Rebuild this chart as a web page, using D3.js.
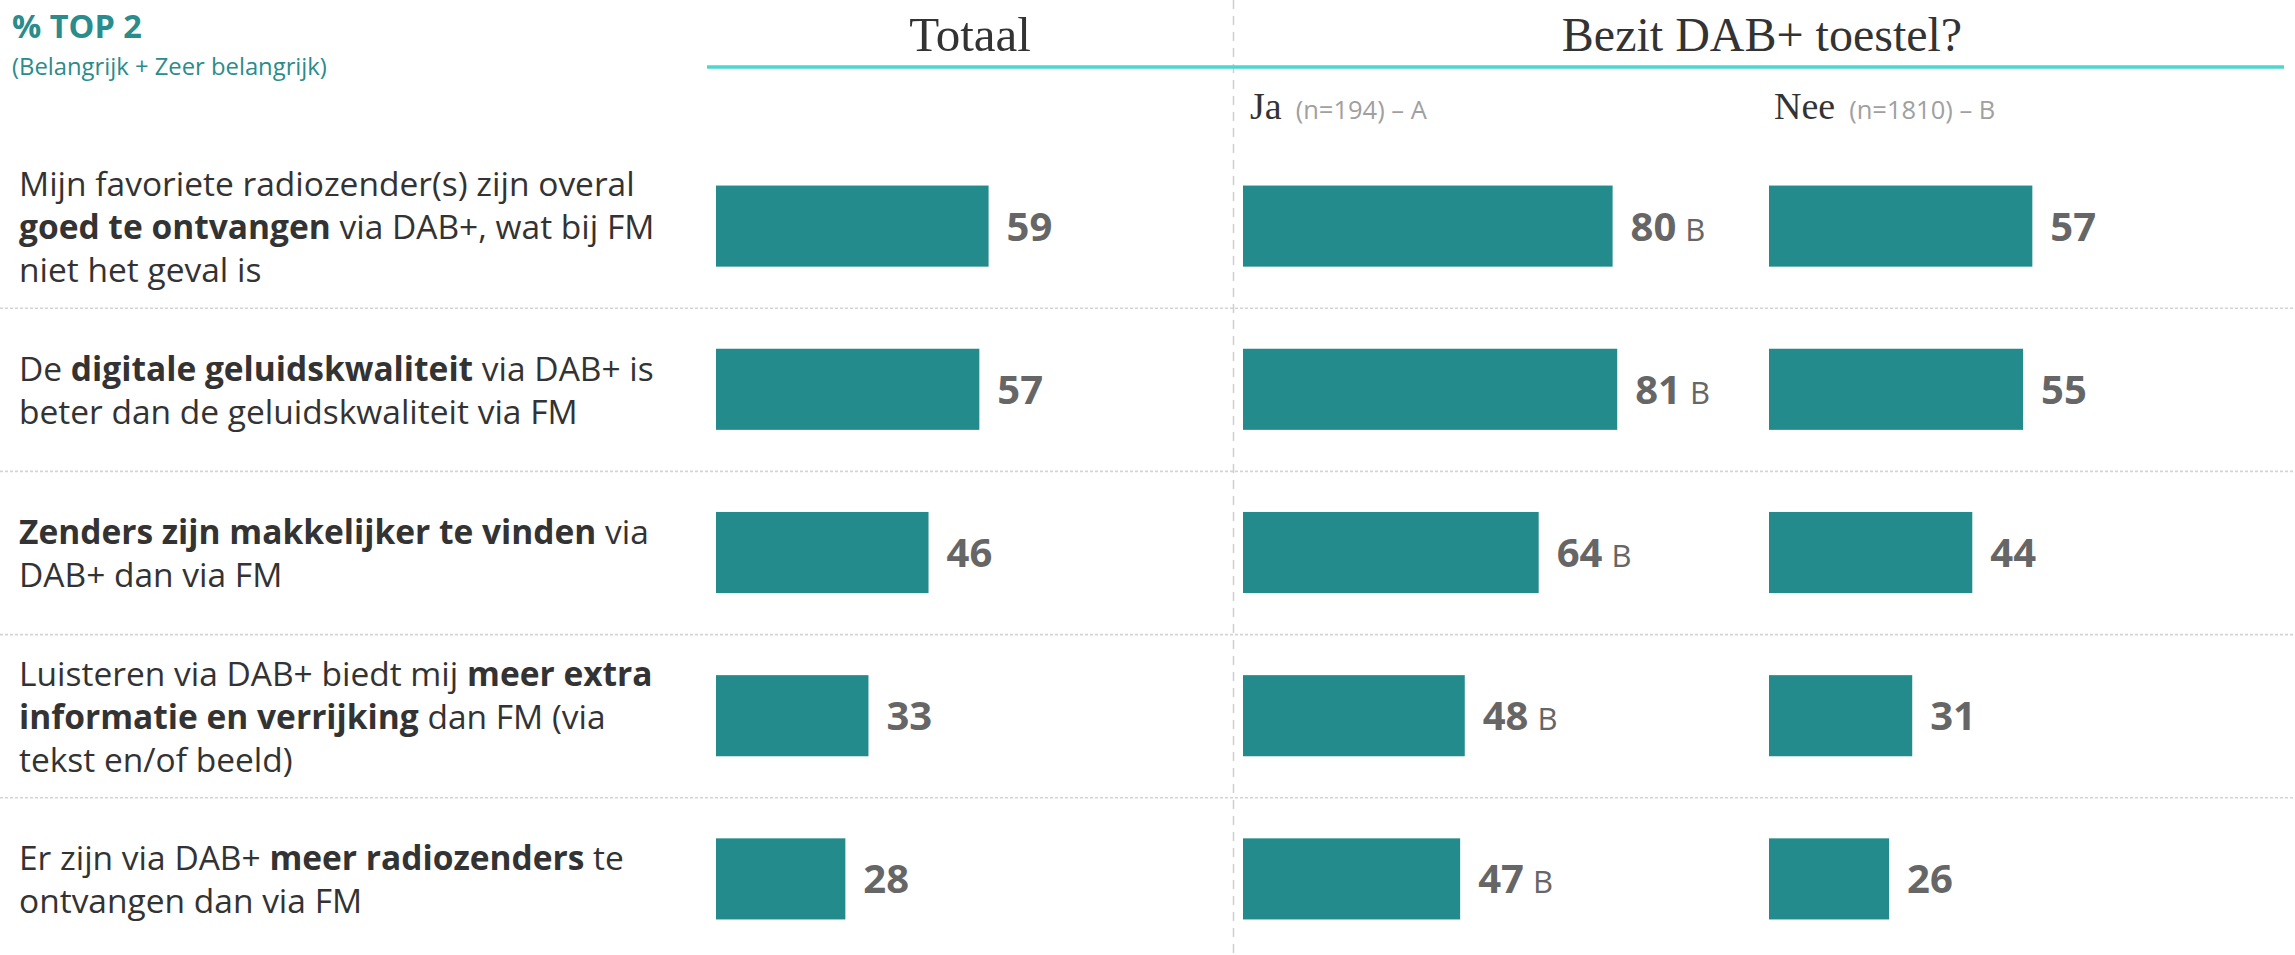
<!DOCTYPE html>
<html>
<head>
<meta charset="utf-8">
<script src="https://cdn.jsdelivr.net/npm/d3@7"></script>
<style>
  html, body { margin: 0; padding: 0; background: #fff; }
  svg { display: block; }
</style>
</head>
<body>
<svg id="chart" width="2295" height="955"></svg>
<script>
// ---------- DATA ----------
const categories = [
  "Mijn favoriete radiozender(s) zijn overal goed te ontvangen via DAB+, wat bij FM niet het geval is",
  "De digitale geluidskwaliteit via DAB+ is beter dan de geluidskwaliteit via FM",
  "Zenders zijn makkelijker te vinden via DAB+ dan via FM",
  "Luisteren via DAB+ biedt mij meer extra informatie en verrijking dan FM (via tekst en/of beeld)",
  "Er zijn via DAB+ meer radiozenders te ontvangen dan via FM"
];
// label lines: each line is a list of [text, bold]
const labelLines = [
  [[["Mijn favoriete radiozender(s) zijn overal", false]],
   [["goed te ontvangen", true], [" via DAB+, wat bij FM", false]],
   [["niet het geval is", false]]],
  [[["De ", false], ["digitale geluidskwaliteit", true], [" via DAB+ is", false]],
   [["beter dan de geluidskwaliteit via FM", false]]],
  [[["Zenders zijn makkelijker te vinden", true], [" via", false]],
   [["DAB+ dan via FM", false]]],
  [[["Luisteren via DAB+ biedt mij ", false], ["meer extra", true]],
   [["informatie en verrijking", true], [" dan FM (via", false]],
   [["tekst en/of beeld)", false]]],
  [[["Er zijn via DAB+ ", false], ["meer radiozenders", true], [" te", false]],
   [["ontvangen dan via FM", false]]]
];
const totaal = [59, 57, 46, 33, 28];
const ja     = [80, 81, 64, 48, 47];
const nee    = [57, 55, 44, 31, 26];
const jaSig  = ["B", "B", "B", "B", "B"];
const neeSig = ["", "", "", "", ""];

const titleMain = "% TOP 2";
const titleSub = "(Belangrijk + Zeer belangrijk)";
const headTotaal = "Totaal";
const headGroup = "Bezit DAB+ toestel?";
const subHeads = [{name: "Ja", note: "(n=194) – A"}, {name: "Nee", note: "(n=1810) – B"}];

// ---------- STYLE ----------
const TEAL_BAR = "#238b8c";
const TEAL_TXT = "#2a8c8c";
const TURQ = "#4dd6d0";
const TXT = "#333333";
const VAL = "#666666";
const SANS = "'Open Sans', 'Noto Sans', sans-serif";
const SERIF = "'Liberation Serif', 'DejaVu Serif', serif";

const svg = d3.select("#chart");

// scales
const y = d3.scaleBand().domain(categories).range([144.5, 960.5]);
const barH = y.bandwidth() * 0.497;
const panelW = 462;
const xT = d3.scaleLinear().domain([0, 100]).range([716, 716 + panelW]);
const xJ = d3.scaleLinear().domain([0, 100]).range([1243, 1243 + panelW]);
const xN = d3.scaleLinear().domain([0, 100]).range([1769, 1769 + panelW]);

// separators between rows
svg.append("g").selectAll("line")
  .data(categories.slice(1))
  .join("line")
  .attr("x1", 0).attr("x2", 2295)
  .attr("y1", d => y(d) + 0.5).attr("y2", d => y(d) + 0.5)
  .attr("stroke", "#d4d4d4").attr("stroke-width", 1.6)
  .attr("stroke-dasharray", "3,2");

// dashed vertical divider
svg.append("line")
  .attr("x1", 1233.5).attr("x2", 1233.5).attr("y1", 0).attr("y2", 955)
  .attr("stroke", "#cfcfcf").attr("stroke-width", 1.5)
  .attr("stroke-dasharray", "9,7");

// header line
svg.append("line")
  .attr("x1", 707).attr("x2", 2284).attr("y1", 67).attr("y2", 67)
  .attr("stroke", TURQ).attr("stroke-width", 3.5);

// titles
svg.append("text").attr("x", 12).attr("y", 38)
  .attr("font-family", SANS).attr("font-weight", 700).attr("font-size", 32.5)
  .attr("fill", TEAL_TXT).text(titleMain);
svg.append("text").attr("x", 12).attr("y", 74.5)
  .attr("font-family", SANS).attr("font-size", 23.8)
  .attr("fill", TEAL_TXT).text(titleSub);

svg.append("text").attr("x", 970).attr("y", 51).attr("text-anchor", "middle")
  .attr("font-family", SERIF).attr("font-size", 49).attr("fill", TXT).text(headTotaal);
svg.append("text").attr("x", 1762).attr("y", 51).attr("text-anchor", "middle")
  .attr("font-family", SERIF).attr("font-size", 48).attr("fill", TXT).text(headGroup);

// sub heads
const subX = [1250, 1774];
subHeads.forEach((s, i) => {
  const t = svg.append("text").attr("x", subX[i]).attr("y", 119);
  t.append("tspan").attr("font-family", SERIF).attr("font-size", 38).attr("fill", TXT).text(s.name);
  t.append("tspan").attr("dx", 14).attr("font-family", SANS).attr("font-size", 25.5)
    .attr("fill", "#a0a0a0").text(s.note);
});

// row labels
const lineH = 43;
const lg = svg.append("g");
categories.forEach((c, i) => {
  const lines = labelLines[i];
  const cy = y(c) + y.bandwidth() / 2;
  lines.forEach((parts, j) => {
    const t = lg.append("text")
      .attr("x", 19)
      .attr("y", cy + 13 + (j - (lines.length - 1) / 2) * lineH)
      .attr("font-family", SANS).attr("font-size", 33.5).attr("fill", TXT);
    parts.forEach(p => {
      t.append("tspan").attr("font-weight", p[1] ? 700 : 400).text(p[0]);
    });
  });
});

// bars
function panel(vals, sig, x) {
  const g = svg.append("g");
  const rows = categories.map((c, i) => ({c, v: vals[i], s: sig[i]}));
  g.selectAll("rect").data(rows).join("rect")
    .attr("x", x(0))
    .attr("y", d => y(d.c) + (y.bandwidth() - barH) / 2)
    .attr("width", d => x(d.v) - x(0))
    .attr("height", barH)
    .attr("fill", TEAL_BAR);
  const lbl = g.selectAll("text").data(rows).join("text")
    .attr("x", d => x(d.v) + 18)
    .attr("y", d => y(d.c) + y.bandwidth() / 2 + 14.5)
    .attr("font-family", SANS).attr("fill", VAL);
  lbl.append("tspan").attr("font-weight", 700).attr("font-size", 40).text(d => d.v);
  lbl.filter(d => d.s).append("tspan").attr("dx", 9).attr("font-weight", 400)
    .attr("font-size", 31).text(d => d.s);
}
panel(totaal, totaal.map(() => ""), xT);
panel(ja, jaSig, xJ);
panel(nee, neeSig, xN);
</script>
</body>
</html>
